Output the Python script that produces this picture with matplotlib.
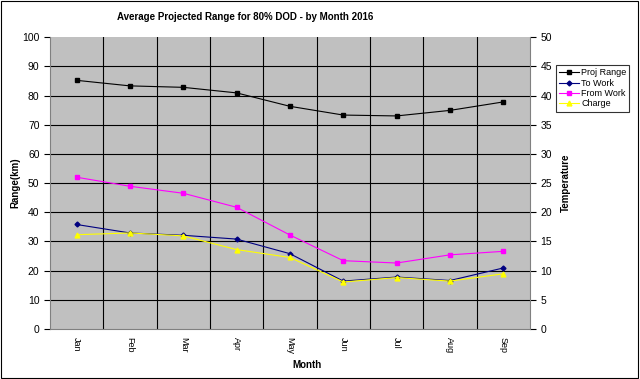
import matplotlib
matplotlib.use("Agg")
import matplotlib.pyplot as plt
import numpy as np

plt.rcParams['font.family'] = ['Liberation Sans', 'DejaVu Sans']

months = ['Jan', 'Feb', 'Mar', 'Apr', 'May', 'Jun', 'Jul', 'Aug', 'Sep']
proj_range = [85.2, 83.3, 82.8, 80.9, 76.3, 73.3, 73.0, 74.9, 77.8]
to_work = [35.8, 32.9, 32.1, 30.8, 25.8, 16.4, 17.8, 16.6, 20.9]
from_work = [52.0, 48.9, 46.5, 41.7, 32.2, 23.4, 22.6, 25.4, 26.6]
charge = [32.3, 32.9, 31.9, 27.2, 24.5, 16.1, 17.6, 16.4, 18.9]

fig = plt.figure(figsize=(6.4, 3.79), dpi=100)
fig.patches.append(plt.Rectangle((0.002, 0.003), 0.995, 0.994, transform=fig.transFigure,
                                 fill=False, edgecolor='black', linewidth=0.8))
ax = fig.add_axes([0.078, 0.132, 0.75, 0.770])
ax.set_facecolor('#c0c0c0')

x = np.arange(len(months))
ax.plot(x, proj_range, color='black', marker='s', markersize=3, linewidth=0.8, label='Proj Range')
ax.plot(x, to_work, color='#000080', marker='D', markersize=2.5, linewidth=0.8, label='To Work')
ax.plot(x, from_work, color='#ff00ff', marker='s', markersize=3, linewidth=0.8, label='From Work')
ax.plot(x, charge, color='#ffff00', marker='^', markersize=3.5, linewidth=0.8, label='Charge')

ax.set_xlim(-0.5, len(months) - 0.5)
ax.set_ylim(0, 100)
ax.set_yticks(np.arange(0, 101, 10))
ax.set_xticks(x)
ax.set_xticklabels(months, rotation=270, fontsize=6.5)
ax.tick_params(axis='x', length=0, pad=6)
ax.tick_params(axis='y', labelsize=7.5, length=4, direction='out')

# category boundaries as vertical grid lines
for b in np.arange(0.5, len(months) - 0.5, 1):
    ax.axvline(b, color='black', linewidth=0.8, zorder=0.5)
for yv in np.arange(10, 100, 10):
    ax.axhline(yv, color='black', linewidth=0.8, zorder=0.5)

for s in ['top', 'right']:
    ax.spines[s].set_visible(False)
ax.spines['left'].set_color('#808080')
ax.spines['bottom'].set_color('#808080')

ax2 = ax.twinx()
ax2.set_ylim(0, 50)
ax2.set_yticks(np.arange(0, 51, 5))
ax2.tick_params(axis='y', labelsize=7.5, length=4, direction='out')
for s in ['top', 'left', 'bottom']:
    ax2.spines[s].set_visible(False)
ax2.spines['right'].set_color('#808080')

fig.text(0.024, 0.517, 'Range(km)', fontsize=7, fontweight='bold', rotation=90,
         ha='center', va='center')
fig.text(0.884, 0.517, 'Temperature', fontsize=7, fontweight='bold', rotation=90,
         ha='center', va='center')
fig.text(0.48, 0.037, 'Month', fontsize=7, fontweight='bold', ha='center', va='center')
fig.text(0.383, 0.955, 'Average Projected Range for 80% DOD - by Month 2016',
         fontsize=7, fontweight='bold', ha='center', va='center')

leg = ax.legend(loc='upper left', bbox_to_anchor=(0.862, 0.84), bbox_transform=fig.transFigure,
                fontsize=6.5, frameon=True, fancybox=False, edgecolor='black',
                handlelength=2.2, borderpad=0.35, labelspacing=0.15, handletextpad=0.2)
leg.get_frame().set_linewidth(0.8)

fig.savefig('out.png', dpi=100)
